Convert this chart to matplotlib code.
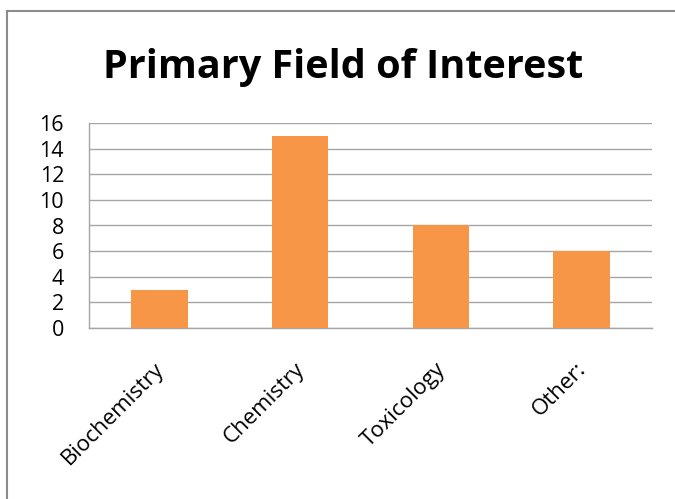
import matplotlib
matplotlib.use("Agg")
import matplotlib.pyplot as plt
from matplotlib.lines import Line2D
from matplotlib.transforms import ScaledTranslation

categories = ["Biochemistry", "Chemistry", "Toxicology", "Other:"]
values = [3, 15, 8, 6]
yticks = [0, 2, 4, 6, 8, 10, 12, 14, 16]

W, H = 675, 499
fig = plt.figure(figsize=(W / 100, H / 100), dpi=100)
fig.patch.set_facecolor("white")

# axes box in pixels: left 89, right 652, top 123, bottom 328
l, r, t, b = 89, 652, 123, 328
ax = fig.add_axes([l / W, 1 - b / H, (r - l) / W, (b - t) / H])

x = list(range(len(categories)))
ax.bar(x, values, width=0.4, color="#F79646", zorder=3)
ax.set_xlim(-0.5, len(categories) - 0.5)
ax.set_ylim(0, 16)
ax.set_yticks(yticks)
ax.set_yticklabels([str(v) for v in yticks])
ax.set_xticks(x)
ax.set_xticklabels(categories, rotation=45, ha="right", va="top",
                   rotation_mode="anchor")

grid_c = "#A6A6A6"
ax.grid(axis="y", color=grid_c, linewidth=1.0, zorder=0)
for s in ["top", "right"]:
    ax.spines[s].set_visible(False)
for s in ["left", "bottom"]:
    ax.spines[s].set_color(grid_c)
    ax.spines[s].set_linewidth(1.0)
ax.tick_params(axis="y", length=0, labelsize=15.5, colors="black", pad=18)
ax.tick_params(axis="x", length=0, labelsize=16, colors="black", pad=22)
for lab in ax.get_xticklabels() + ax.get_yticklabels():
    lab.set_fontfamily("Open Sans")
for lab in ax.get_xticklabels():
    lab.set_transform(lab.get_transform() + ScaledTranslation(-0.06, 0, fig.dpi_scale_trans))

fig.text(343 / W, 1 - 78 / H, "Primary Field of Interest", ha="center",
         va="baseline", fontsize=28.5, fontweight="bold", family="Open Sans")

# outer frame lines (left and top)
fig.add_artist(Line2D([7 / W, 7 / W], [0, 1 - 11 / H], transform=fig.transFigure,
                      color="#8C8C8C", linewidth=1.5))
fig.add_artist(Line2D([7 / W, 1], [1 - 11 / H, 1 - 11 / H], transform=fig.transFigure,
                      color="#8C8C8C", linewidth=1.5))

fig.savefig("out.png", dpi=100)
